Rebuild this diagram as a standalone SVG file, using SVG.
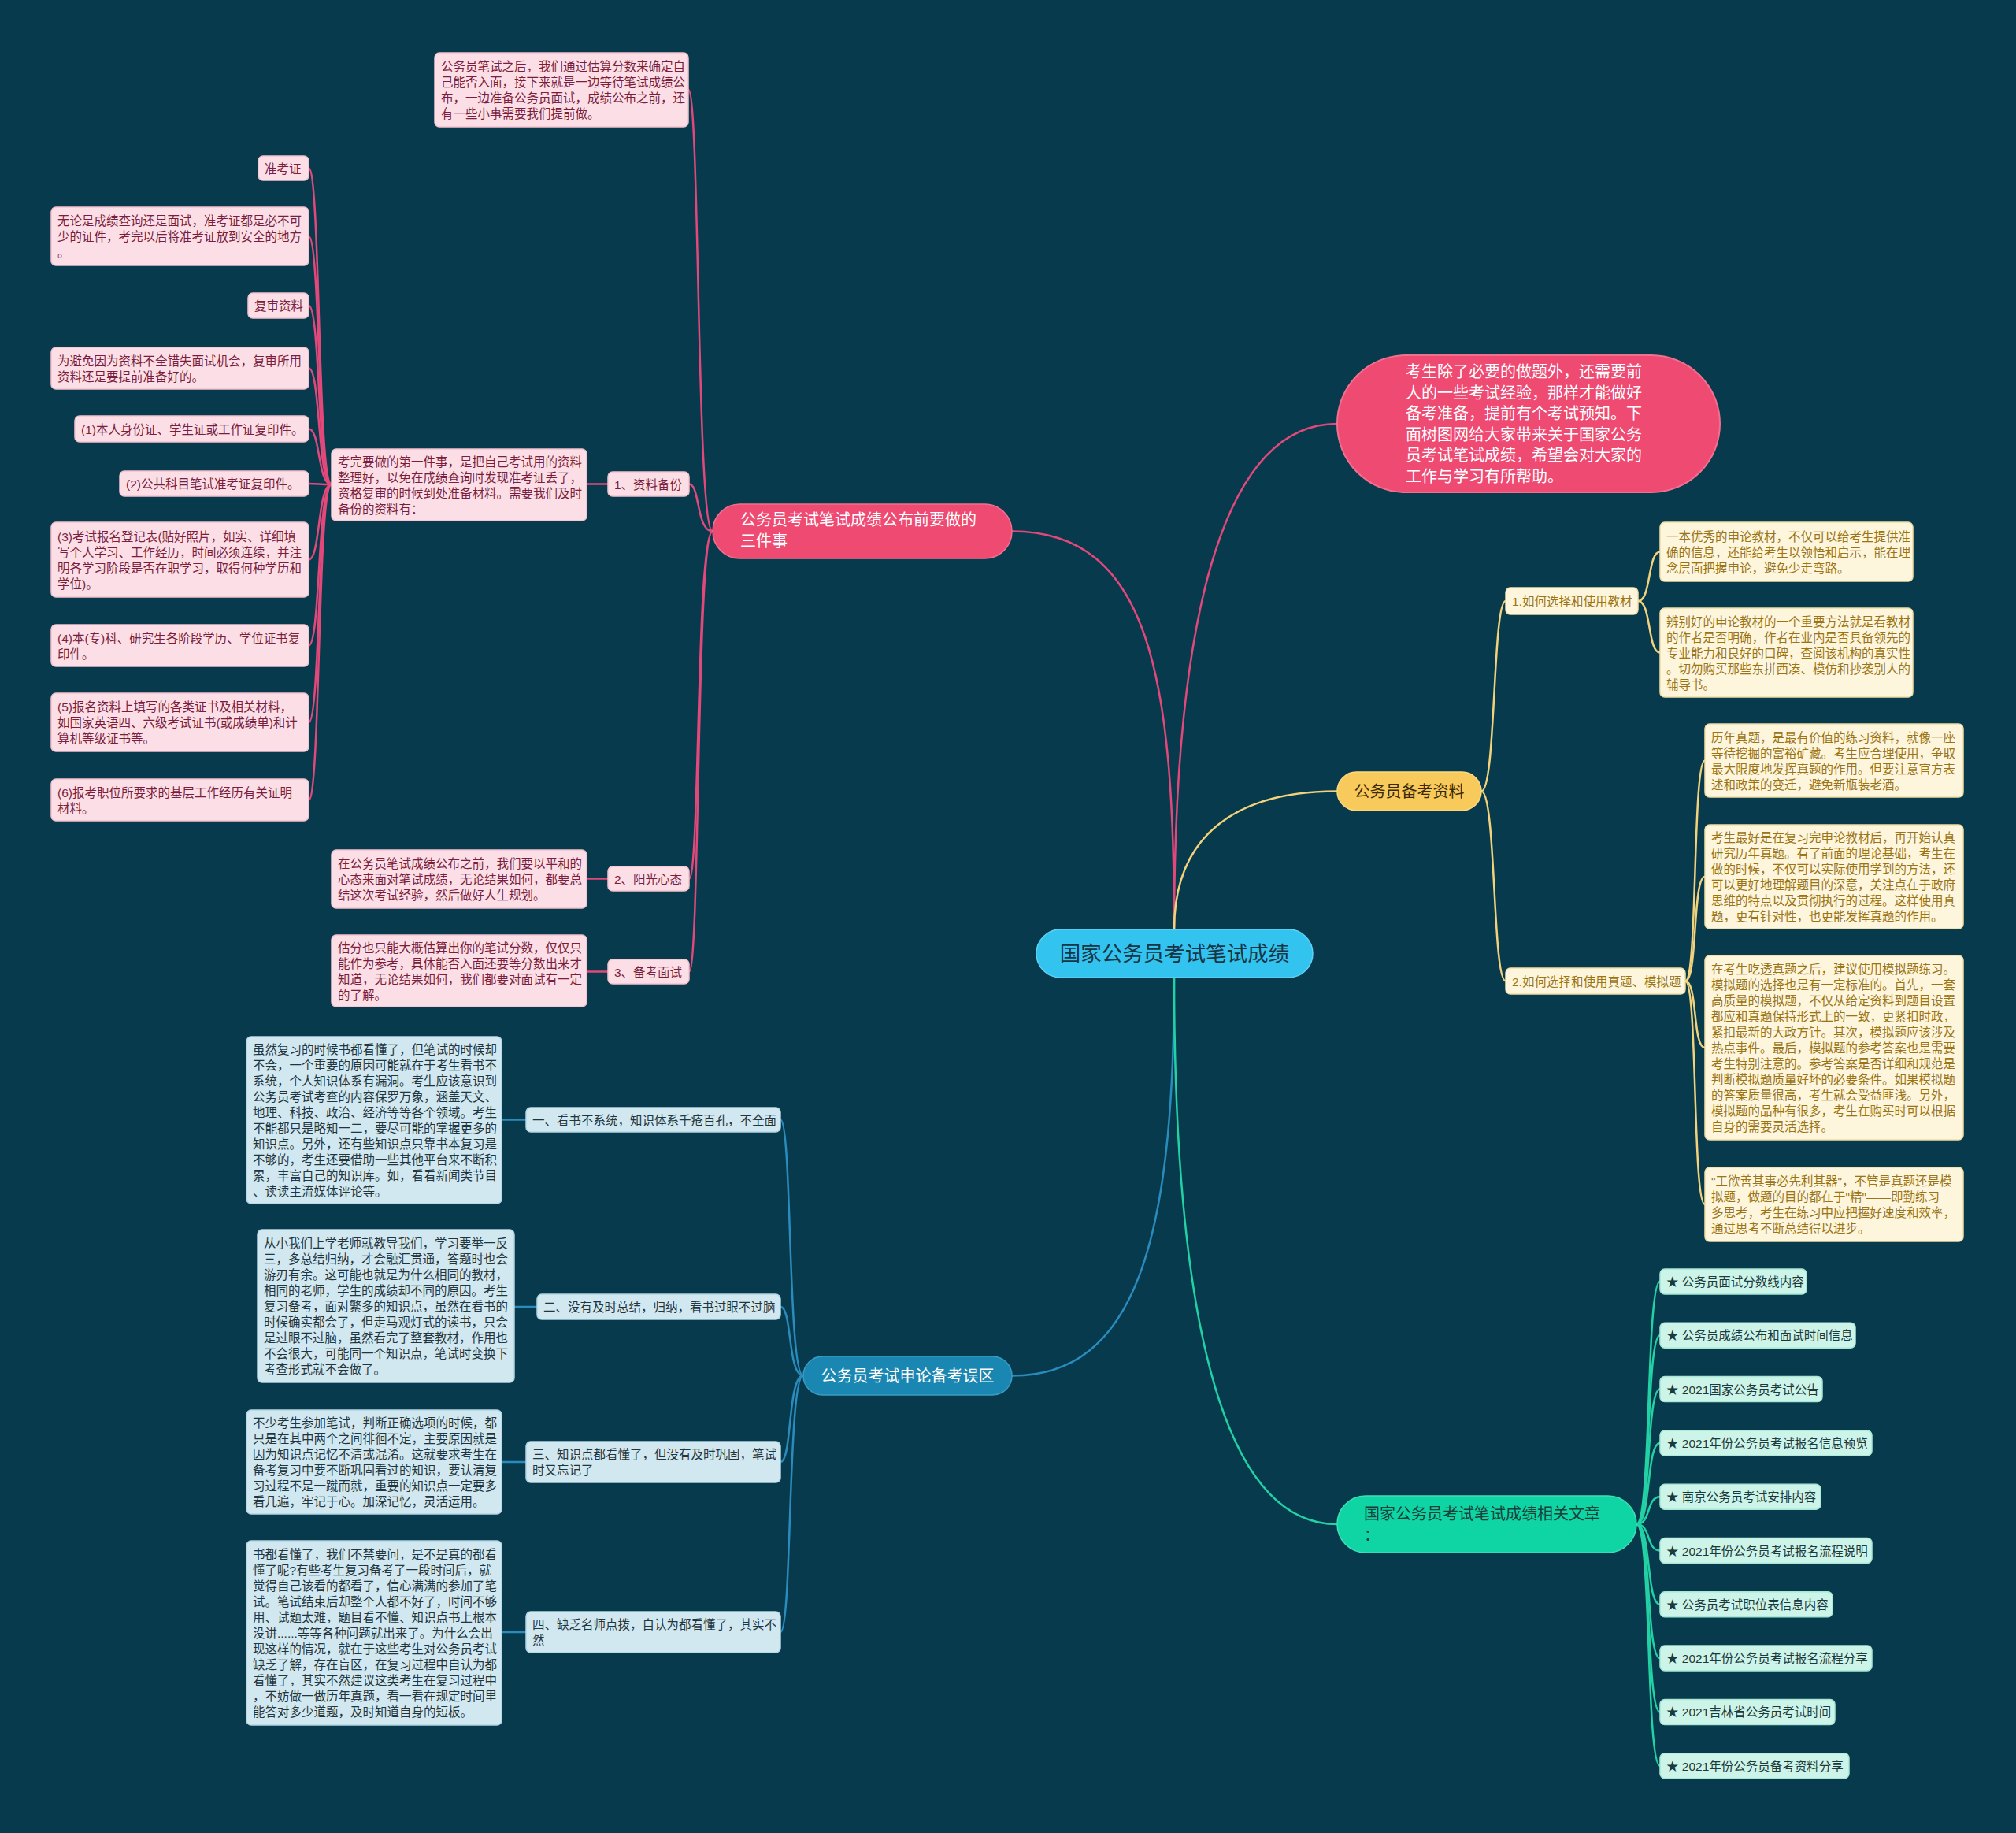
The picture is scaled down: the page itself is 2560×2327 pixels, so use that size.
<svg xmlns="http://www.w3.org/2000/svg" width="2560" height="2327" viewBox="0 0 2560 2327">
<style>
text{font-family:"Liberation Sans","Noto Sans CJK SC",sans-serif;font-size:15.5px}
.pk{fill:#fcdfe6;stroke:#f3c2cf;stroke-width:1.5}
.pt{fill:#7b1d3d}
.yb{fill:#fdf5dc;stroke:#f1dea3;stroke-width:1.5}
.yt{fill:#9a7415}
.bb{fill:#d2e8f0;stroke:#b3d5e3;stroke-width:1.5}
.bt{fill:#1f3640}
.gb{fill:#cdf4e8;stroke:#a6e8d4;stroke-width:1.5}
.gt{fill:#1b3a3d}
.big{font-size:20px}
.c{fill:none;stroke-width:2.5}
.cp{stroke:#e2497a}
.cy{stroke:#f2d27a}
.cb{stroke:#2a8cbd}
.cg{stroke:#22d2a4}
</style>
<rect x="0" y="0" width="2560" height="2327" fill="#083a4e"/>

<g id="connectors">
<!-- center -->
<path class="c cp" d="M1491,1180 C1491,860 1460,674.5 1285,674.5"/>
<path class="c cp" d="M1491,1180 C1491,760 1560,538 1698,538"/>
<path class="c cy" d="M1491,1180 C1491,1060 1570,1004.5 1698,1004.5"/>
<path class="c cb" d="M1491,1241 C1491,1580 1440,1746.5 1285,1746.5"/>
<path class="c cg" d="M1491,1241 C1491,1700 1560,1935 1698,1935"/>
<!-- pink branch -->
<path class="c cp" d="M905,674.5 C884,674.5 889,114 874,114"/>
<path class="c cp" d="M905,674.5 C884,674.5 889,614.5 875,614.5"/>
<path class="c cp" d="M905,674.5 C884,674.5 889,1115.5 875,1115.5"/>
<path class="c cp" d="M905,674.5 C884,674.5 889,1233.5 875,1233.5"/>
<path class="c cp" d="M772,614.5 L745,614.5"/>
<path class="c cp" d="M772,1115.5 L745,1115.5"/>
<path class="c cp" d="M772,1233.5 L745,1233.5"/>
<path class="c cp" d="M421,615 C403,615 407,213.5 392,213.5"/>
<path class="c cp" d="M421,615 C403,615 407,300 392,300"/>
<path class="c cp" d="M421,615 C403,615 407,388 392,388"/>
<path class="c cp" d="M421,615 C403,615 407,467.5 392,467.5"/>
<path class="c cp" d="M421,615 C403,615 407,544.5 392,544.5"/>
<path class="c cp" d="M421,615 C403,615 407,614 392,614"/>
<path class="c cp" d="M421,615 C403,615 407,710.5 392,710.5"/>
<path class="c cp" d="M421,615 C403,615 407,819.5 392,819.5"/>
<path class="c cp" d="M421,615 C403,615 407,917 392,917"/>
<path class="c cp" d="M421,615 C403,615 407,1015.5 392,1015.5"/>
<!-- yellow branch -->
<path class="c cy" d="M1881,1004.5 C1900,1004.5 1895,763 1912,763"/>
<path class="c cy" d="M1881,1004.5 C1900,1004.5 1895,1245.5 1912,1245.5"/>
<path class="c cy" d="M2080,763 C2097,763 2092,700.5 2108,700.5"/>
<path class="c cy" d="M2080,763 C2097,763 2092,828.5 2108,828.5"/>
<path class="c cy" d="M2140,1245.5 C2156,1245.5 2149,965.5 2165,965.5"/>
<path class="c cy" d="M2140,1245.5 C2156,1245.5 2149,1113 2165,1113"/>
<path class="c cy" d="M2140,1245.5 C2156,1245.5 2149,1330 2165,1330"/>
<path class="c cy" d="M2140,1245.5 C2156,1245.5 2149,1529 2165,1529"/>
<!-- blue branch -->
<path class="c cb" d="M1020,1746.5 C1000,1746.5 1006,1421.5 991,1421.5"/>
<path class="c cb" d="M1020,1746.5 C1000,1746.5 1006,1659 991,1659"/>
<path class="c cb" d="M1020,1746.5 C1000,1746.5 1006,1856 991,1856"/>
<path class="c cb" d="M1020,1746.5 C1000,1746.5 1006,2072 991,2072"/>
<path class="c cb" d="M668,1421.5 L637,1421.5"/>
<path class="c cb" d="M682,1659 L653,1659"/>
<path class="c cb" d="M668,1856 L637,1856"/>
<path class="c cb" d="M668,2072 L637,2072"/>
<!-- green branch -->
<path class="c cg" d="M2078,1935 C2097,1935 2090,1627 2108,1627"/>
<path class="c cg" d="M2078,1935 C2097,1935 2090,1695.3 2108,1695.3"/>
<path class="c cg" d="M2078,1935 C2097,1935 2090,1763.6 2108,1763.6"/>
<path class="c cg" d="M2078,1935 C2097,1935 2090,1831.9 2108,1831.9"/>
<path class="c cg" d="M2078,1935 C2097,1935 2090,1900.2 2108,1900.2"/>
<path class="c cg" d="M2078,1935 C2097,1935 2090,1968.5 2108,1968.5"/>
<path class="c cg" d="M2078,1935 C2097,1935 2090,2036.8 2108,2036.8"/>
<path class="c cg" d="M2078,1935 C2097,1935 2090,2105.1 2108,2105.1"/>
<path class="c cg" d="M2078,1935 C2097,1935 2090,2173.4 2108,2173.4"/>
<path class="c cg" d="M2078,1935 C2097,1935 2090,2241.7 2108,2241.7"/>
</g>

<g id="center">
<rect x="1316" y="1180" width="351" height="61" rx="30.5" fill="#33c3ef" stroke="#5fd2f4" stroke-width="1.5"/>
<text x="1491.5" y="1220" text-anchor="middle" style="font-size:26.5px" fill="#163545">国家公务员考试笔试成绩</text>
</g>

<g id="intro">
<rect x="1698" y="451" width="486" height="174" rx="87" fill="#ee4a72" stroke="#f2708f" stroke-width="2"/>
<text class="big" fill="#ffffff"><tspan x="1785" y="479.2">考生除了必要的做题外，还需要前</tspan><tspan x="1785" y="505.7">人的一些考试经验，那样才能做好</tspan><tspan x="1785" y="532.2">备考准备，提前有个考试预知。下</tspan><tspan x="1785" y="558.7">面树图网给大家带来关于国家公务</tspan><tspan x="1785" y="585.2">员考试笔试成绩，希望会对大家的</tspan><tspan x="1785" y="611.7">工作与学习有所帮助。</tspan></text>
</g>

<g id="branch-pink">
<rect x="905" y="640" width="380" height="69" rx="34.5" fill="#ee4a72" stroke="#f2708f" stroke-width="1.5"/>
<text class="big" fill="#ffffff"><tspan x="940" y="667.4">公务员考试笔试成绩公布前要做的</tspan><tspan x="940" y="694.4">三件事</tspan></text>
</g>

<g id="pink-top-note">
<rect class="pk" x="552" y="67" width="322" height="94" rx="6"/>
<text class="pt"><tspan x="560" y="90">公务员笔试之后，我们通过估算分数来确定自</tspan><tspan x="560" y="110">己能否入面，接下来就是一边等待笔试成绩公</tspan><tspan x="560" y="130">布，一边准备公务员面试，成绩公布之前，还</tspan><tspan x="560" y="150">有一些小事需要我们提前做。</tspan></text>
</g>

<g id="pink-l1">
<rect class="pk" x="772" y="599" width="103" height="31" rx="6"/>
<text class="pt" x="780" y="620.5">1、资料备份</text>
</g>
<g id="pink-l1-note">
<rect class="pk" x="421" y="570" width="324" height="91" rx="6"/>
<text class="pt"><tspan x="429" y="591.5">考完要做的第一件事，是把自己考试用的资料</tspan><tspan x="429" y="611.5">整理好，以免在成绩查询时发现准考证丢了，</tspan><tspan x="429" y="631.5">资格复审的时候到处准备材料。需要我们及时</tspan><tspan x="429" y="651.5">备份的资料有：</tspan></text>
</g>
<g id="pink-a">
<rect class="pk" x="328" y="198" width="64" height="31" rx="6"/>
<text class="pt" x="336" y="219.5">准考证</text>
</g>
<g id="pink-b">
<rect class="pk" x="65" y="263" width="327" height="74" rx="6"/>
<text class="pt"><tspan x="73" y="286">无论是成绩查询还是面试，准考证都是必不可</tspan><tspan x="73" y="306">少的证件，考完以后将准考证放到安全的地方</tspan><tspan x="73" y="326">。</tspan></text>
</g>
<g id="pink-c">
<rect class="pk" x="315" y="372" width="77" height="32" rx="6"/>
<text class="pt" x="323" y="394">复审资料</text>
</g>
<g id="pink-d">
<rect class="pk" x="65" y="441" width="327" height="53" rx="6"/>
<text class="pt"><tspan x="73" y="463.5">为避免因为资料不全错失面试机会，复审所用</tspan><tspan x="73" y="483.5">资料还是要提前准备好的。</tspan></text>
</g>
<g id="pink-e">
<rect class="pk" x="95" y="528" width="297" height="33" rx="6"/>
<text class="pt" x="103" y="550.5">(1)本人身份证、学生证或工作证复印件。</text>
</g>
<g id="pink-f">
<rect class="pk" x="152" y="598" width="240" height="32" rx="6"/>
<text class="pt" x="160" y="620">(2)公共科目笔试准考证复印件。</text>
</g>
<g id="pink-g">
<rect class="pk" x="65" y="663" width="327" height="95" rx="6"/>
<text class="pt"><tspan x="73" y="686.5">(3)考试报名登记表(贴好照片，如实、详细填</tspan><tspan x="73" y="706.5">写个人学习、工作经历，时间必须连续，并注</tspan><tspan x="73" y="726.5">明各学习阶段是否在职学习，取得何种学历和</tspan><tspan x="73" y="746.5">学位)。</tspan></text>
</g>
<g id="pink-h">
<rect class="pk" x="65" y="793" width="327" height="53" rx="6"/>
<text class="pt"><tspan x="73" y="815.5">(4)本(专)科、研究生各阶段学历、学位证书复</tspan><tspan x="73" y="835.5">印件。</tspan></text>
</g>
<g id="pink-i">
<rect class="pk" x="65" y="880" width="327" height="74" rx="6"/>
<text class="pt"><tspan x="73" y="903">(5)报名资料上填写的各类证书及相关材料，</tspan><tspan x="73" y="923">如国家英语四、六级考试证书(或成绩单)和计</tspan><tspan x="73" y="943">算机等级证书等。</tspan></text>
</g>
<g id="pink-j">
<rect class="pk" x="65" y="989" width="327" height="53" rx="6"/>
<text class="pt"><tspan x="73" y="1011.5">(6)报考职位所要求的基层工作经历有关证明</tspan><tspan x="73" y="1031.5">材料。</tspan></text>
</g>
<g id="pink-l2">
<rect class="pk" x="772" y="1100" width="103" height="31" rx="6"/>
<text class="pt" x="780" y="1121.5">2、阳光心态</text>
</g>
<g id="pink-l2-note">
<rect class="pk" x="421" y="1079" width="324" height="74" rx="6"/>
<text class="pt"><tspan x="429" y="1102">在公务员笔试成绩公布之前，我们要以平和的</tspan><tspan x="429" y="1122">心态来面对笔试成绩，无论结果如何，都要总</tspan><tspan x="429" y="1142">结这次考试经验，然后做好人生规划。</tspan></text>
</g>
<g id="pink-l3">
<rect class="pk" x="772" y="1218" width="103" height="31" rx="6"/>
<text class="pt" x="780" y="1239.5">3、备考面试</text>
</g>
<g id="pink-l3-note">
<rect class="pk" x="421" y="1187" width="324" height="91" rx="6"/>
<text class="pt"><tspan x="429" y="1208.5">估分也只能大概估算出你的笔试分数，仅仅只</tspan><tspan x="429" y="1228.5">能作为参考，具体能否入面还要等分数出来才</tspan><tspan x="429" y="1248.5">知道，无论结果如何，我们都要对面试有一定</tspan><tspan x="429" y="1268.5">的了解。</tspan></text>
</g>

<g id="branch-yellow">
<rect x="1698" y="980" width="183" height="49" rx="24.5" fill="#f8ca5c" stroke="#fbd97f" stroke-width="1.5"/>
<text class="big" x="1789.5" y="1012" text-anchor="middle" fill="#3a2b06">公务员备考资料</text>
</g>
<g id="yellow-l1">
<rect class="yb" x="1912" y="746" width="168" height="34" rx="6"/>
<text class="yt" x="1920" y="769">1.如何选择和使用教材</text>
</g>
<g id="yellow-a">
<rect class="yb" x="2108" y="663" width="321" height="75" rx="6"/>
<text class="yt"><tspan x="2116" y="686.5">一本优秀的申论教材，不仅可以给考生提供准</tspan><tspan x="2116" y="706.5">确的信息，还能给考生以领悟和启示，能在理</tspan><tspan x="2116" y="726.5">念层面把握申论，避免少走弯路。</tspan></text>
</g>
<g id="yellow-b">
<rect class="yb" x="2108" y="772" width="321" height="113" rx="6"/>
<text class="yt"><tspan x="2116" y="794.5">辨别好的申论教材的一个重要方法就是看教材</tspan><tspan x="2116" y="814.5">的作者是否明确，作者在业内是否具备领先的</tspan><tspan x="2116" y="834.5">专业能力和良好的口碑，查阅该机构的真实性</tspan><tspan x="2116" y="854.5">。切勿购买那些东拼西凑、模仿和抄袭别人的</tspan><tspan x="2116" y="874.5">辅导书。</tspan></text>
</g>
<g id="yellow-l2">
<rect class="yb" x="1912" y="1229" width="228" height="33" rx="6"/>
<text class="yt" x="1920" y="1251.5">2.如何选择和使用真题、模拟题</text>
</g>
<g id="yellow-c">
<rect class="yb" x="2165" y="919" width="328" height="93" rx="6"/>
<text class="yt"><tspan x="2173" y="941.5">历年真题，是最有价值的练习资料，就像一座</tspan><tspan x="2173" y="961.5">等待挖掘的富裕矿藏。考生应合理使用，争取</tspan><tspan x="2173" y="981.5">最大限度地发挥真题的作用。但要注意官方表</tspan><tspan x="2173" y="1001.5">述和政策的变迁，避免新瓶装老酒。</tspan></text>
</g>
<g id="yellow-d">
<rect class="yb" x="2165" y="1047" width="328" height="132" rx="6"/>
<text class="yt"><tspan x="2173" y="1069">考生最好是在复习完申论教材后，再开始认真</tspan><tspan x="2173" y="1089">研究历年真题。有了前面的理论基础，考生在</tspan><tspan x="2173" y="1109">做的时候，不仅可以实际使用学到的方法，还</tspan><tspan x="2173" y="1129">可以更好地理解题目的深意，关注点在于政府</tspan><tspan x="2173" y="1149">思维的特点以及贯彻执行的过程。这样使用真</tspan><tspan x="2173" y="1169">题，更有针对性，也更能发挥真题的作用。</tspan></text>
</g>
<g id="yellow-e">
<rect class="yb" x="2165" y="1213" width="328" height="234" rx="6"/>
<text class="yt"><tspan x="2173" y="1236">在考生吃透真题之后，建议使用模拟题练习。</tspan><tspan x="2173" y="1256">模拟题的选择也是有一定标准的。首先，一套</tspan><tspan x="2173" y="1276">高质量的模拟题，不仅从给定资料到题目设置</tspan><tspan x="2173" y="1296">都应和真题保持形式上的一致，更紧扣时政，</tspan><tspan x="2173" y="1316">紧扣最新的大政方针。其次，模拟题应该涉及</tspan><tspan x="2173" y="1336">热点事件。最后，模拟题的参考答案也是需要</tspan><tspan x="2173" y="1356">考生特别注意的。参考答案是否详细和规范是</tspan><tspan x="2173" y="1376">判断模拟题质量好坏的必要条件。如果模拟题</tspan><tspan x="2173" y="1396">的答案质量很高，考生就会受益匪浅。另外，</tspan><tspan x="2173" y="1416">模拟题的品种有很多，考生在购买时可以根据</tspan><tspan x="2173" y="1436">自身的需要灵活选择。</tspan></text>
</g>
<g id="yellow-f">
<rect class="yb" x="2165" y="1482" width="328" height="94" rx="6"/>
<text class="yt"><tspan x="2173" y="1505">"工欲善其事必先利其器"，不管是真题还是模</tspan><tspan x="2173" y="1525">拟题，做题的目的都在于"精"——即勤练习</tspan><tspan x="2173" y="1545">多思考，考生在练习中应把握好速度和效率，</tspan><tspan x="2173" y="1565">通过思考不断总结得以进步。</tspan></text>
</g>

<g id="branch-blue">
<rect x="1020" y="1722" width="265" height="49" rx="24.5" fill="#1a87b2" stroke="#3a9cc2" stroke-width="1.5"/>
<text class="big" x="1152.5" y="1754" text-anchor="middle" fill="#ffffff">公务员考试申论备考误区</text>
</g>
<g id="blue-l1">
<rect class="bb" x="668" y="1406" width="323" height="31" rx="6"/>
<text class="bt" x="676" y="1427.5">一、看书不系统，知识体系千疮百孔，不全面</text>
</g>
<g id="blue-n1">
<rect class="bb" x="313" y="1316" width="324" height="212" rx="6"/>
<text class="bt"><tspan x="321" y="1338">虽然复习的时候书都看懂了，但笔试的时候却</tspan><tspan x="321" y="1358">不会，一个重要的原因可能就在于考生看书不</tspan><tspan x="321" y="1378">系统，个人知识体系有漏洞。考生应该意识到</tspan><tspan x="321" y="1398">公务员考试考查的内容保罗万象，涵盖天文、</tspan><tspan x="321" y="1418">地理、科技、政治、经济等等各个领域。考生</tspan><tspan x="321" y="1438">不能都只是略知一二，要尽可能的掌握更多的</tspan><tspan x="321" y="1458">知识点。另外，还有些知识点只靠书本复习是</tspan><tspan x="321" y="1478">不够的，考生还要借助一些其他平台来不断积</tspan><tspan x="321" y="1498">累，丰富自己的知识库。如，看看新闻类节目</tspan><tspan x="321" y="1518">、读读主流媒体评论等。</tspan></text>
</g>
<g id="blue-l2">
<rect class="bb" x="682" y="1643" width="309" height="32" rx="6"/>
<text class="bt" x="690" y="1665">二、没有及时总结，归纳，看书过眼不过脑</text>
</g>
<g id="blue-n2">
<rect class="bb" x="327" y="1561" width="326" height="194" rx="6"/>
<text class="bt"><tspan x="335" y="1584">从小我们上学老师就教导我们，学习要举一反</tspan><tspan x="335" y="1604">三，多总结归纳，才会融汇贯通，答题时也会</tspan><tspan x="335" y="1624">游刃有余。这可能也就是为什么相同的教材，</tspan><tspan x="335" y="1644">相同的老师，学生的成绩却不同的原因。考生</tspan><tspan x="335" y="1664">复习备考，面对繁多的知识点，虽然在看书的</tspan><tspan x="335" y="1684">时候确实都会了，但走马观灯式的读书，只会</tspan><tspan x="335" y="1704">是过眼不过脑，虽然看完了整套教材，作用也</tspan><tspan x="335" y="1724">不会很大，可能同一个知识点，笔试时变换下</tspan><tspan x="335" y="1744">考查形式就不会做了。</tspan></text>
</g>
<g id="blue-l3">
<rect class="bb" x="668" y="1830" width="323" height="52" rx="6"/>
<text class="bt"><tspan x="676" y="1852">三、知识点都看懂了，但没有及时巩固，笔试</tspan><tspan x="676" y="1872">时又忘记了</tspan></text>
</g>
<g id="blue-n3">
<rect class="bb" x="313" y="1790" width="324" height="132" rx="6"/>
<text class="bt"><tspan x="321" y="1812">不少考生参加笔试，判断正确选项的时候，都</tspan><tspan x="321" y="1832">只是在其中两个之间徘徊不定，主要原因就是</tspan><tspan x="321" y="1852">因为知识点记忆不清或混淆。这就要求考生在</tspan><tspan x="321" y="1872">备考复习中要不断巩固看过的知识，要认清复</tspan><tspan x="321" y="1892">习过程不是一蹴而就，重要的知识点一定要多</tspan><tspan x="321" y="1912">看几遍，牢记于心。加深记忆，灵活运用。</tspan></text>
</g>
<g id="blue-l4">
<rect class="bb" x="668" y="2046" width="323" height="52" rx="6"/>
<text class="bt"><tspan x="676" y="2068">四、缺乏名师点拨，自认为都看懂了，其实不</tspan><tspan x="676" y="2088">然</tspan></text>
</g>
<g id="blue-n4">
<rect class="bb" x="313" y="1956" width="324" height="234" rx="6"/>
<text class="bt"><tspan x="321" y="1979">书都看懂了，我们不禁要问，是不是真的都看</tspan><tspan x="321" y="1999">懂了呢?有些考生复习备考了一段时间后，就</tspan><tspan x="321" y="2019">觉得自己该看的都看了，信心满满的参加了笔</tspan><tspan x="321" y="2039">试。笔试结束后却整个人都不好了，时间不够</tspan><tspan x="321" y="2059">用、试题太难，题目看不懂、知识点书上根本</tspan><tspan x="321" y="2079">没讲......等等各种问题就出来了。为什么会出</tspan><tspan x="321" y="2099">现这样的情况，就在于这些考生对公务员考试</tspan><tspan x="321" y="2119">缺乏了解，存在盲区，在复习过程中自认为都</tspan><tspan x="321" y="2139">看懂了，其实不然建议这类考生在复习过程中</tspan><tspan x="321" y="2159">，不妨做一做历年真题，看一看在规定时间里</tspan><tspan x="321" y="2179">能答对多少道题，及时知道自身的短板。</tspan></text>
</g>

<g id="branch-green">
<rect x="1698" y="1899" width="380" height="72" rx="36" fill="#0fd5a4" stroke="#3fe0b8" stroke-width="1.5"/>
<text class="big" fill="#17403a"><tspan x="1732" y="1929.4">国家公务员考试笔试成绩相关文章</tspan><tspan x="1732" y="1956">：</tspan></text>
</g>
<g id="green-1"><rect class="gb" x="2108" y="1611" width="186" height="32" rx="6"/><text class="gt" x="2116" y="1633">★ 公务员面试分数线内容</text></g>
<g id="green-2"><rect class="gb" x="2108" y="1679.3" width="248" height="32" rx="6"/><text class="gt" x="2116" y="1701.3">★ 公务员成绩公布和面试时间信息</text></g>
<g id="green-3"><rect class="gb" x="2108" y="1747.6" width="206" height="32" rx="6"/><text class="gt" x="2116" y="1769.6">★ 2021国家公务员考试公告</text></g>
<g id="green-4"><rect class="gb" x="2108" y="1815.9" width="269" height="32" rx="6"/><text class="gt" x="2116" y="1837.9">★ 2021年份公务员考试报名信息预览</text></g>
<g id="green-5"><rect class="gb" x="2108" y="1884.2" width="204" height="32" rx="6"/><text class="gt" x="2116" y="1906.2">★ 南京公务员考试安排内容</text></g>
<g id="green-6"><rect class="gb" x="2108" y="1952.5" width="269" height="32" rx="6"/><text class="gt" x="2116" y="1974.5">★ 2021年份公务员考试报名流程说明</text></g>
<g id="green-7"><rect class="gb" x="2108" y="2020.8" width="219" height="32" rx="6"/><text class="gt" x="2116" y="2042.8">★ 公务员考试职位表信息内容</text></g>
<g id="green-8"><rect class="gb" x="2108" y="2089.1" width="269" height="32" rx="6"/><text class="gt" x="2116" y="2111.1">★ 2021年份公务员考试报名流程分享</text></g>
<g id="green-9"><rect class="gb" x="2108" y="2157.4" width="222" height="32" rx="6"/><text class="gt" x="2116" y="2179.4">★ 2021吉林省公务员考试时间</text></g>
<g id="green-10"><rect class="gb" x="2108" y="2225.7" width="240" height="32" rx="6"/><text class="gt" x="2116" y="2247.7">★ 2021年份公务员备考资料分享</text></g>
</svg>
